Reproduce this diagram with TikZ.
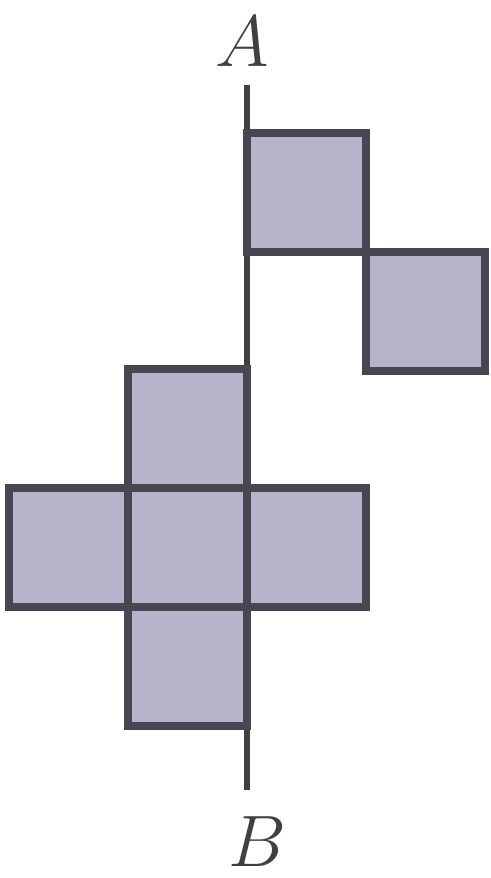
\documentclass[tikz,border=0pt]{standalone}
\usepackage{tikz}
\usetikzlibrary{positioning}
\definecolor{myface}{RGB}{182,180,202}
\definecolor{myedge}{RGB}{72,70,82}
\tikzset{>=latex}
\tikzstyle{face}=[rectangle, draw=myedge, fill=myface, line width=2.3pt, minimum size=1.19cm, inner sep=0pt]
\tikzstyle{lbl}=[text=black!75, font=\fontsize{22}{26}\selectfont]
\tikzstyle{axis}=[line width=1.5pt, black!75]

\begin{document}
\begin{tikzpicture}[
    node distance=1.19cm,
    on grid]
\useasboundingbox (0,0) rectangle (4.9,-8.78);

% Labels of the line
\node[lbl] (A) at (2.42,-0.42) {$A$};
\node[lbl] (B) at (2.57,-8.42) {$B$};

% Line AB
\coordinate (ltop) at (2.47,-0.85);
\coordinate (lbot) at (2.47,-7.9);
\draw[axis] (ltop) -- (lbot);

% Cross
\node[face] (c) at (1.875,-5.475) {};
\node[face] (up) [above=of c] {};
\node[face] (lft) [left=of c] {};
\node[face] (rgt) [right=of c] {};
\node[face] (dn) [below=of c] {};

% Steps
\node[face] (s1) [above right=2.36cm and 1.19cm of up] {};
\node[face] (s2) [below right=1.19cm and 1.19cm of s1] {};

\end{tikzpicture}
\end{document}
